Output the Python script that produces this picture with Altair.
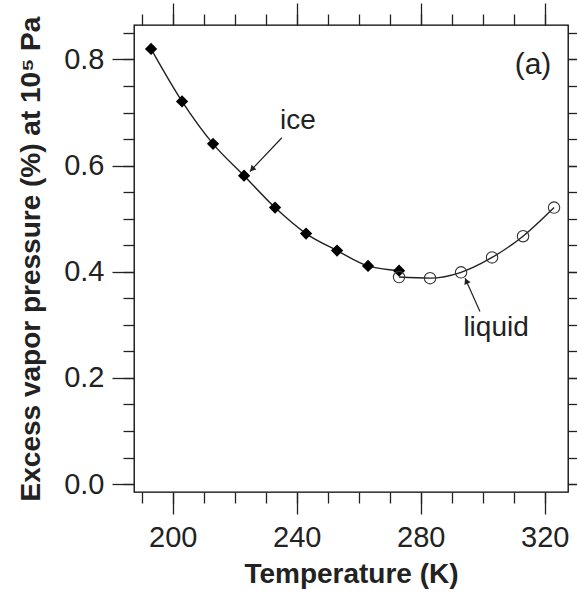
import math
import altair as alt
import pandas as pd

# ---- data ----
ice_T = [193, 203, 213, 223, 233, 243, 253, 263, 273]
ice_v = [0.820, 0.721, 0.641, 0.581, 0.521, 0.472, 0.440, 0.411, 0.402]
liq_T = [273, 283, 293, 303, 313, 323]
liq_v = [0.390, 0.388, 0.399, 0.427, 0.467, 0.521]

x_major = [200, 240, 280, 320]
x_minor = [190, 200, 210, 220, 230, 240, 250, 260, 270, 280, 290, 300, 310, 320]
y_major = [0.0, 0.2, 0.4, 0.6, 0.8]
y_minor = [0.0, 0.05, 0.1, 0.15, 0.2, 0.25, 0.3, 0.35, 0.4, 0.45, 0.5,
           0.55, 0.6, 0.65, 0.7, 0.75, 0.8, 0.85]

# annotations (label, text position, arrow start, arrow tip)
ann_text = ["ice", "liquid", "(a)"]
ann_T = [240.4, 304.3, 316.2]
ann_v = [0.6845, 0.2945, 0.790]
arrow_T0 = [235.2, 299.1]
arrow_v0 = [0.6525, 0.3252]
arrow_T1 = [224.9, 294.3]
arrow_v1 = [0.589, 0.388]

X_DOM = [187.5, 327.5]
Y_DOM = [-0.015, 0.865]
W, H = 434, 467

ice = pd.DataFrame({"T": ice_T, "v": ice_v})
liq = pd.DataFrame({"T": liq_T, "v": liq_v})

sx = W / (X_DOM[1] - X_DOM[0])
sy = H / (Y_DOM[1] - Y_DOM[0])
angles, headT, headv = [], [], []
for t0, v0, t1, v1 in zip(arrow_T0, arrow_v0, arrow_T1, arrow_v1):
    dx = (t1 - t0) * sx
    dy = -(v1 - v0) * sy
    L = math.hypot(dx, dy)
    ang = math.degrees(math.atan2(dx, -dy)) % 360
    angles.append(ang)
    # pull the arrow head back a little so its point lands on the tip
    headT.append(t1 - (dx / L) * 3 / sx)
    headv.append(v1 + (dy / L) * 3 / sy)
arrows = pd.DataFrame({"T0": arrow_T0, "v0": arrow_v0, "T1": arrow_T1,
                       "v1": arrow_v1, "hT": headT, "hv": headv, "ang": angles})
texts = pd.DataFrame({"T": ann_T, "v": ann_v, "txt": ann_text,
                      "size": [28, 28, 30]})

XS = alt.Scale(domain=X_DOM, nice=False, zero=False)
YS = alt.Scale(domain=Y_DOM, nice=False, zero=False)
INK = "#222222"
FONT = "Liberation Sans"


def ax(orient, values, size, labels=False, title=None, fmt=None, pad=8, tpad=10):
    kw = dict(orient=orient, values=values, tickSize=size, labels=labels,
              title=title, domain=False, grid=False, ticks=True,
              tickColor=INK, tickWidth=1.3, labelFont=FONT, labelFontSize=29,
              labelColor=INK, labelPadding=pad, titleFont=FONT,
              titleFontSize=28, titleFontWeight="bold", titleColor=INK,
              titlePadding=tpad)
    if fmt:
        kw["format"] = fmt
    return alt.Axis(**kw)


line_ice = alt.Chart(ice).mark_line(color=INK, strokeWidth=1.4, interpolate="monotone").encode(
    x=alt.X("T:Q", scale=XS, axis=ax("bottom", x_major, 22, True, "Temperature (K)", "d", 9, 8)),
    y=alt.Y("v:Q", scale=YS, axis=ax("left", y_major, 22, True,
                                     "Excess vapor pressure (%) at 10⁵ Pa", ".1f", 8, 18)),
)
line_liq = alt.Chart(liq).mark_line(color=INK, strokeWidth=1.4, interpolate="monotone").encode(
    x=alt.X("T:Q", scale=XS, axis=ax("bottom", x_minor, 11)),
    y=alt.Y("v:Q", scale=YS, axis=ax("left", y_minor, 11)),
)
pts_ice = alt.Chart(ice).mark_point(shape="diamond", filled=True, size=150,
                                    color="black", opacity=1).encode(
    x=alt.X("T:Q", scale=XS, axis=ax("top", x_major, 22)),
    y=alt.Y("v:Q", scale=YS, axis=ax("right", y_major, 22)),
)
pts_liq = alt.Chart(liq).mark_point(shape="circle", filled=False, size=130,
                                    color="#333333", strokeWidth=1.1, opacity=1).encode(
    x=alt.X("T:Q", scale=XS, axis=ax("top", x_minor, 11)),
    y=alt.Y("v:Q", scale=YS, axis=ax("right", y_minor, 11)),
)
arrow_lines = alt.Chart(arrows).mark_rule(color=INK, strokeWidth=1.2).encode(
    x=alt.X("T0:Q", scale=XS, axis=None), y=alt.Y("v0:Q", scale=YS, axis=None),
    x2="T1:Q", y2="v1:Q",
)
arrow_heads = alt.Chart(arrows).mark_point(shape="triangle-up", filled=True, size=45,
                                           color=INK, opacity=1).encode(
    x=alt.X("hT:Q", scale=XS, axis=None), y=alt.Y("hv:Q", scale=YS, axis=None),
    angle=alt.Angle("ang:Q", scale=None),
)
labels = alt.Chart(texts).mark_text(font=FONT, color=INK, align="center",
                                    baseline="middle").encode(
    x=alt.X("T:Q", scale=XS, axis=None), y=alt.Y("v:Q", scale=YS, axis=None),
    text="txt:N", size=alt.Size("size:Q", scale=None, legend=None),
)

chart = alt.layer(
    line_ice, line_liq, pts_ice, pts_liq, arrow_lines, arrow_heads, labels
).resolve_axis(x="independent", y="independent").properties(
    width=W, height=H,
    autosize=alt.AutoSizeParams(type="none"),
    padding={"left": 134, "top": 25, "right": 9, "bottom": 103},
    background="white",
).configure_view(stroke="black", strokeWidth=1.3)

chart.save("out.html", embed_options={"renderer": "svg", "actions": False})
